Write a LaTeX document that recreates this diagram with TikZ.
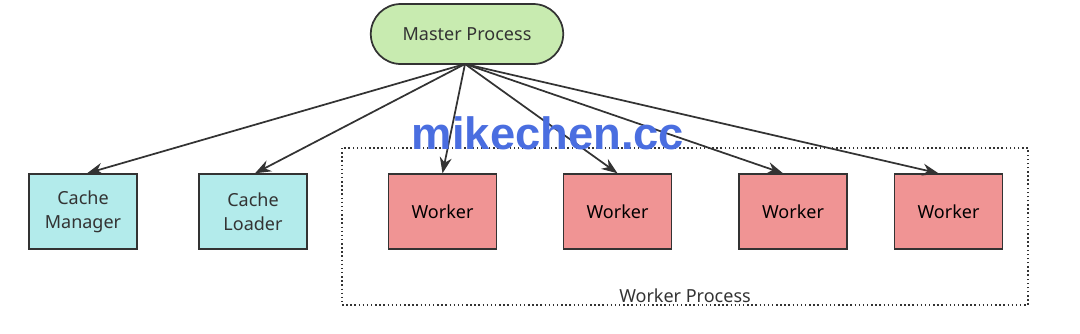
\documentclass[tikz,border=0pt]{standalone}
\usepackage{fontspec}
\setmainfont{Noto Sans}
\usetikzlibrary{arrows.meta,shapes.misc}
\definecolor{ink}{HTML}{333333}
\definecolor{mastergreen}{HTML}{C8EBB0}
\definecolor{cachecyan}{HTML}{B3EBEB}
\definecolor{workerred}{HTML}{F09494}
\definecolor{wmblue}{HTML}{4A6EE0}
\tikzset{
  box/.style={draw=ink, line width=1.3pt, minimum width=81pt, minimum height=56pt, inner sep=0pt, align=center, font=\fontsize{13.5}{18}\selectfont, text=ink},
  cachebox/.style={box, fill=cachecyan},
  workerbox/.style={box, fill=workerred, text=black},
  masterbox/.style={draw=ink, line width=1.3pt, rounded rectangle, minimum width=151pt, minimum height=45pt, fill=mastergreen, font=\fontsize{13.5}{16}\selectfont, text=ink},
  conn/.style={draw=ink, line width=1.3pt, -{Stealth[length=12pt,width=9pt]}},
  group/.style={draw=ink, line width=1.1pt, dotted}
}
\begin{document}
\begin{tikzpicture}[x=0.75pt,y=-0.75pt]
\useasboundingbox (0,0) rectangle (1080,333);
\draw[group] (342,148) rectangle (1028,305);
\node[anchor=south, font=\fontsize{13.5}{16}\selectfont, text=ink, inner sep=1pt] (wp) at (685,304) {Worker Process};
\node[masterbox] (m) at (467,34) {Master Process};
\node[cachebox] (cm) at (83,211.5) {Cache\\Manager};
\node[cachebox] (cl) at (253,211.5) {Cache\\Loader};
\node[workerbox] (w1) at (442.5,211.5) {Worker};
\node[workerbox] (w2) at (617.5,211.5) {Worker};
\node[workerbox] (w3) at (793,211.5) {Worker};
\node[workerbox] (w4) at (948.5,211.5) {Worker};
\coordinate (src) at (465,64);
\draw[conn] (src) -- ([xshift=3pt]cm.north);
\draw[conn] (src) -- ([xshift=1.5pt]cl.north);
\draw[conn] (src) -- (w1.north);
\draw[conn] (src) -- (w2.north);
\draw[conn] (src) -- ([xshift=-7.5pt]w3.north);
\draw[conn] (src) -- ([xshift=-7.5pt]w4.north);
\node[font=\fontspec{Liberation Sans}\bfseries\fontsize{34}{40}\selectfont, text=wmblue] (wm) at (548,133) {mikechen.cc};
\end{tikzpicture}
\end{document}
